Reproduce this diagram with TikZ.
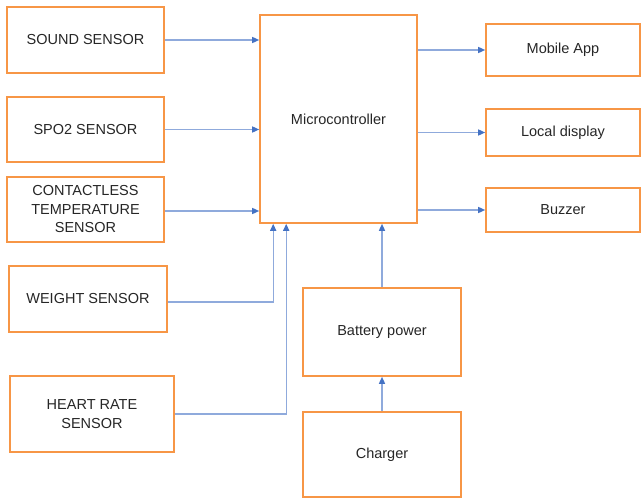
\documentclass[tikz,border=0pt]{standalone}
\usepackage{fontspec}
\setmainfont{Liberation Sans}
\usepackage{tikz}
\usetikzlibrary{arrows.meta,positioning}
\usepackage{xcolor}
\definecolor{BoxOrange}{HTML}{F79646}
\definecolor{LinkBlue}{HTML}{8FAADC}
\definecolor{TipBlue}{HTML}{4472C4}
\definecolor{LabelGray}{HTML}{262626}
\tikzset{
  blockbox/.style={draw=BoxOrange,line width=1.6pt,fill=white,align=center,inner sep=2pt,text=LabelGray,font=\fontsize{14.5}{18.5}\selectfont},
  linkarrow/.style={-{Triangle[length=7pt,width=6pt,color=TipBlue]},line width=1.4pt,draw=LinkBlue}
}

\begin{document}
\begin{tikzpicture}[x=1pt,y=-1pt]
\useasboundingbox (0,0) rectangle (641,498);
% sensors on the left
\node[blockbox,minimum width=157pt,minimum height=66pt] (sound) at (85.5,40) {SOUND SENSOR};
\node[blockbox,minimum width=157pt,minimum height=65pt] (spo) at (85.5,129.5) {SPO2 SENSOR};
\node[blockbox,minimum width=157pt,minimum height=65pt] (temp) at (85.5,209.5) {CONTACTLESS\\TEMPERATURE\\SENSOR};
\node[blockbox,minimum width=158pt,minimum height=66pt] (weight) at (88,299) {WEIGHT SENSOR};
\node[blockbox,minimum width=164pt,minimum height=76pt] (heart) at (92,414) {HEART RATE\\SENSOR};
% controller and power
\node[blockbox,minimum width=157pt,minimum height=208pt] (micro) at (338.5,119) {Microcontroller};
\node[blockbox,minimum width=158pt,minimum height=88pt] (battery) at (382,332) {Battery power};
\node[blockbox,minimum width=158pt,minimum height=85pt] (charger) at (382,454.5) {Charger};
% outputs
\node[blockbox,minimum width=154pt,minimum height=52pt] (mobile) at (563,50) {Mobile App};
\node[blockbox,minimum width=154pt,minimum height=47pt] (local) at (563,132.5) {Local display};
\node[blockbox,minimum width=154pt,minimum height=44pt] (buzzer) at (563,210) {Buzzer};

\draw[linkarrow] (sound.east) -- (sound.east -| micro.west);
\draw[linkarrow] (spo.east) -- (spo.east -| micro.west);
\draw[linkarrow] ([yshift=-1.5pt]temp.east) -- ([yshift=-1.5pt]temp.east -| micro.west);
\draw[linkarrow] ([yshift=-3pt]weight.east) -| ([xshift=14pt]micro.south west);
\draw[linkarrow] (heart.east) -| ([xshift=27pt]micro.south west);
\draw[linkarrow] (battery.north) -- (battery.north |- micro.south);
\draw[linkarrow] (charger.north) -- (battery.south);
\draw[linkarrow] (micro.east |- mobile) -- (mobile.west);
\draw[linkarrow] (micro.east |- local) -- (local.west);
\draw[linkarrow] (micro.east |- buzzer) -- (buzzer.west);
\end{tikzpicture}
\end{document}
